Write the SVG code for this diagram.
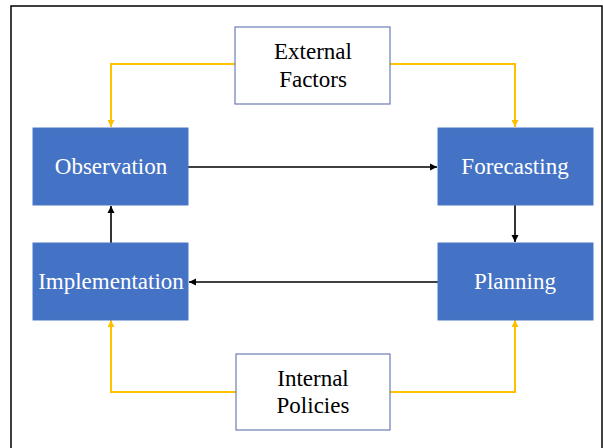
<svg xmlns="http://www.w3.org/2000/svg" width="603" height="448" viewBox="0 0 603 448">
<defs>
<style>
.frame{fill:#fff;stroke:#000;stroke-width:1.5}
.blue{fill:#4472C4;stroke:#4a78c8;stroke-width:1}
.white{fill:#fff;stroke:#6a7db5;stroke-width:1.2}
.bt{fill:#fff}
.wt{fill:#000}
.blk{fill:none;stroke:#000;stroke-width:1.6}
.yel{fill:none;stroke:#FFC000;stroke-width:2}
</style>
<marker id="ab" viewBox="0 0 10 10" refX="10" refY="5" markerWidth="4.5" markerHeight="4.5" markerUnits="strokeWidth" orient="auto"><path d="M0,0 L10,5 L0,10 z" fill="#000"/></marker>
<marker id="ay" viewBox="0 0 10 10" refX="10" refY="5" markerWidth="3.5" markerHeight="3.5" markerUnits="strokeWidth" orient="auto"><path d="M0,0 L10,5 L0,10 z" fill="#FFC000"/></marker>
</defs>
<rect class="frame" x="11" y="6" width="591" height="460"/>
<g id="connectors">
<path class="yel" d="M235,64 H111 V127" marker-end="url(#ay)"/>
<path class="yel" d="M390,64 H515 V127" marker-end="url(#ay)"/>
<path class="yel" d="M236,392 H111 V320" marker-end="url(#ay)"/>
<path class="yel" d="M390,392 H515 V320" marker-end="url(#ay)"/>
<path class="blk" d="M188,167 H437" marker-end="url(#ab)"/>
<path class="blk" d="M515,205 V242" marker-end="url(#ab)"/>
<path class="blk" d="M438,282 H189" marker-end="url(#ab)"/>
<path class="blk" d="M111,243 V206" marker-end="url(#ab)"/>
</g>
<g font-family="Liberation Serif, Times New Roman, serif" font-size="23" text-anchor="middle">
<g id="external">
<rect class="white" x="235" y="27" width="155" height="77"/>
<text class="wt" x="313" y="59">External</text>
<text class="wt" x="313" y="87">Factors</text>
</g>
<g id="observation">
<rect class="blue" x="33" y="128" width="155" height="77"/>
<text class="bt" x="111" y="174">Observation</text>
</g>
<g id="forecasting">
<rect class="blue" x="438" y="128" width="155" height="77"/>
<text class="bt" x="515" y="174">Forecasting</text>
</g>
<g id="implementation">
<rect class="blue" x="33" y="243" width="155" height="77"/>
<text class="bt" x="111" y="289">Implementation</text>
</g>
<g id="planning">
<rect class="blue" x="438" y="243" width="155" height="77"/>
<text class="bt" x="515" y="289">Planning</text>
</g>
<g id="internal">
<rect class="white" x="236" y="354" width="154" height="76"/>
<text class="wt" x="313" y="386">Internal</text>
<text class="wt" x="313" y="413">Policies</text>
</g>
</g>
</svg>
